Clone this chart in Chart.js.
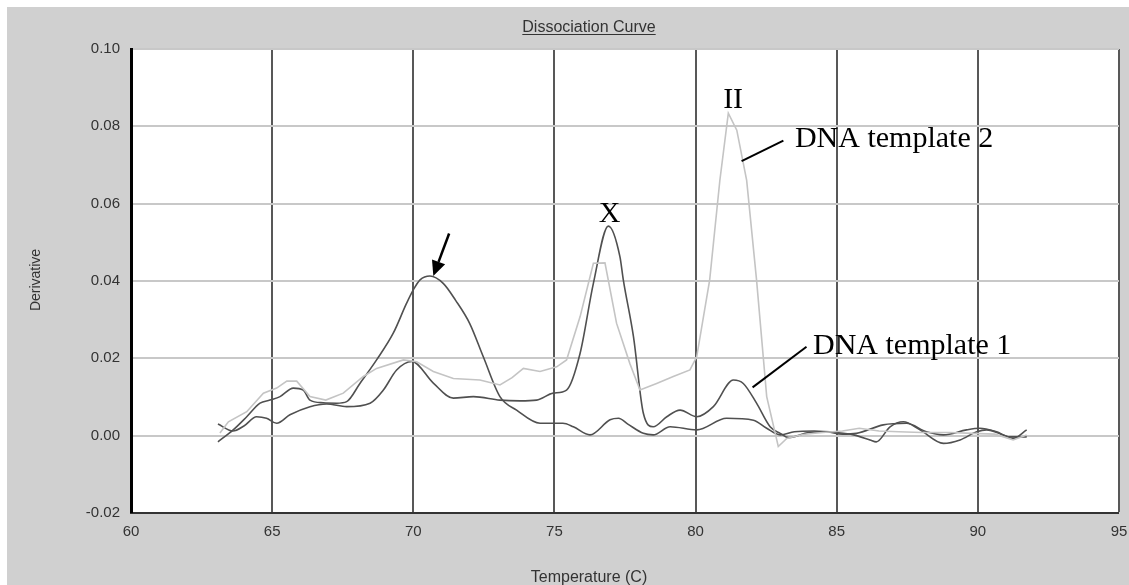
<!DOCTYPE html>
<html>
<head>
<meta charset="utf-8">
<script src="https://cdn.jsdelivr.net/npm/chart.js@4/dist/chart.umd.min.js"></script>
<style>
  body { margin: 0; background: #fff; }
  canvas { display: block; }
</style>
</head>
<body>
<canvas id="myChart" width="1129" height="585"></canvas>
<script>
// --- data ---
const tempsA = [63.08, 63.62, 64.1, 64.57, 64.92, 65.28, 65.75, 66.1, 66.34, 66.81, 67.29, 67.64, 68.11, 68.7, 69.29, 69.76, 70.0, 70.24, 70.59, 71.06, 71.5, 72.0, 72.48, 73.07, 73.66, 74.49, 75.3, 75.67, 76.26, 76.97, 77.27, 77.6, 78.15, 78.5, 79.1, 80.04, 81.1, 82.05, 82.52, 83.0, 83.5, 84.2, 85.0, 85.6, 86.18, 86.4, 86.89, 87.36, 87.95, 88.78, 89.37, 89.96, 90.31, 90.9, 91.25, 91.73];
const derivA = [-0.0016, 0.0015, 0.0049, 0.0084, 0.0092, 0.0101, 0.0123, 0.0118, 0.0092, 0.0085, 0.0084, 0.0088, 0.0135, 0.0196, 0.0265, 0.0342, 0.0377, 0.0403, 0.0413, 0.0394, 0.0350, 0.0290, 0.0204, 0.0101, 0.0066, 0.0032, 0.0032, 0.0023, 0.0002, 0.0041, 0.0045, 0.0030, 0.0006, 0.0002, 0.0023, 0.0015, 0.0045, 0.0040, 0.0019, 0.0002, 0.0010, 0.0012, 0.0008, 0.0002, -0.0011, -0.0016, 0.0023, 0.0036, 0.0015, -0.0020, -0.0011, 0.0010, 0.0015, 0.0002, -0.0007, 0.0015];

const tempsB = [63.08, 63.61, 64.0, 64.45, 64.8, 65.16, 65.63, 66.34, 66.93, 67.64, 68.47, 68.94, 69.41, 69.95, 70.71, 71.42, 72.13, 73.07, 73.78, 74.37, 74.96, 75.43, 75.91, 76.38, 76.91, 77.32, 77.44, 77.8, 78.15, 78.5, 78.98, 79.45, 80.04, 80.63, 81.34, 81.69, 82.16, 82.64, 83.0, 83.3, 84.0, 84.6, 85.2, 85.7, 86.65, 87.47, 88.18, 88.78, 89.6, 90.07, 90.66, 91.13, 91.73];
const derivB = [0.0030, 0.0012, 0.0025, 0.0049, 0.0045, 0.0032, 0.0054, 0.0075, 0.0082, 0.0075, 0.0084, 0.0118, 0.0170, 0.0192, 0.0136, 0.0097, 0.0101, 0.0092, 0.0090, 0.0092, 0.0110, 0.0118, 0.0213, 0.0394, 0.0542, 0.0463, 0.0403, 0.0256, 0.0058, 0.0023, 0.0049, 0.0066, 0.0049, 0.0075, 0.0144, 0.0135, 0.0084, 0.0023, 0.0006, -0.0005, 0.0008, 0.0010, 0.0004, 0.0006, 0.0028, 0.0032, 0.0010, 0.0002, 0.0015, 0.0019, 0.0010, -0.0003, -0.0003];

const tempsC = [63.15, 63.45, 64.1, 64.69, 65.16, 65.52, 65.87, 66.34, 66.9, 67.52, 68.23, 68.7, 69.65, 70.12, 70.71, 71.42, 72.36, 73.07, 73.5, 73.9, 74.49, 75.08, 75.43, 75.91, 76.38, 76.79, 77.2, 77.67, 78.03, 78.62, 79.21, 79.8, 80.04, 80.5, 80.86, 81.16, 81.46, 81.81, 82.16, 82.52, 82.93, 83.23, 83.8, 84.5, 85.2, 85.8, 86.5, 87.2, 88.0, 89.0, 89.8, 90.6, 91.25, 91.73];
const derivC = [0.0007, 0.0036, 0.0062, 0.0110, 0.0123, 0.0141, 0.0141, 0.0101, 0.0092, 0.0110, 0.0153, 0.0174, 0.0196, 0.0191, 0.0166, 0.0148, 0.0144, 0.0131, 0.0150, 0.0174, 0.0166, 0.0178, 0.0196, 0.0308, 0.0446, 0.0447, 0.0291, 0.0187, 0.0118, 0.0135, 0.0153, 0.0170, 0.0204, 0.0403, 0.0660, 0.0834, 0.0790, 0.0660, 0.0403, 0.0101, -0.0028, -0.0007, 0.0003, 0.0008, 0.0012, 0.0019, 0.0012, 0.0010, 0.0008, 0.0008, 0.0006, 0.0004, -0.0011, 0.0002];

// annotation labels in data units (temperature, derivative)
const labelTexts = ['II', 'X', 'DNA template 2', 'DNA template 1'];
const labelPos = [[81.33, 0.0847], [76.95, 0.0552], [83.52, 0.0747], [84.16, 0.0211]];
const leaderLines = [[83.11, 0.0763, 81.63, 0.0710], [83.93, 0.0230, 82.02, 0.0125]];
const arrowLine = [71.27, 0.0523, 70.71, 0.0413];

function toPoints(xs, ys) {
    return xs.map((x, i) => ({ x: x, y: ys[i] }));
}

const SANS = '"Liberation Sans", Arial, sans-serif';
const SERIF = '"Liberation Serif", "Times New Roman", serif';

// gray frame, title, axis titles
const framePlugin = {
    id: 'frame',
    beforeDraw(chart) {
        const ctx = chart.ctx;
        const a = chart.chartArea;
        ctx.save();
        ctx.fillStyle = '#ffffff';
        ctx.fillRect(0, 0, chart.width, chart.height);
        ctx.fillStyle = '#d0d0d0';
        ctx.fillRect(7, 7, chart.width - 7, chart.height - 7);
        ctx.fillStyle = '#ffffff';
        ctx.fillRect(a.left, a.top, a.right - a.left, a.bottom - a.top);
        ctx.restore();
    },
    afterDraw(chart) {
        const ctx = chart.ctx;
        ctx.save();
        ctx.fillStyle = '#333';
        ctx.strokeStyle = '#333';
        ctx.textAlign = 'center';
        ctx.textBaseline = 'alphabetic';
        ctx.font = '16px ' + SANS;
        const title = 'Dissociation Curve';
        ctx.fillText(title, 589, 32);
        const w = ctx.measureText(title).width;
        ctx.lineWidth = 1.2;
        ctx.beginPath();
        ctx.moveTo(589 - w / 2, 34.5);
        ctx.lineTo(589 + w / 2, 34.5);
        ctx.stroke();

        ctx.fillText('Temperature (C)', 589, 582);

        ctx.font = '14px ' + SANS;
        ctx.translate(40, 280);
        ctx.rotate(-Math.PI / 2);
        ctx.fillText('Derivative', 0, 0);
        ctx.restore();
    }
};

// serif labels, leader lines and arrow placed through the scales
const notePlugin = {
    id: 'notes',
    afterDatasetsDraw(chart) {
        const ctx = chart.ctx;
        const sx = chart.scales.x, sy = chart.scales.y;
        const px = v => sx.getPixelForValue(v);
        const py = v => sy.getPixelForValue(v);
        ctx.save();
        ctx.fillStyle = '#000';
        ctx.strokeStyle = '#000';
        ctx.font = '30px ' + SERIF;
        ctx.textBaseline = 'alphabetic';
        labelTexts.forEach((t, i) => {
            ctx.textAlign = i < 2 ? 'center' : 'left';
            ctx.fillText(t, px(labelPos[i][0]), py(labelPos[i][1]));
        });

        ctx.lineWidth = 2;
        leaderLines.forEach(l => {
            ctx.beginPath();
            ctx.moveTo(px(l[0]), py(l[1]));
            ctx.lineTo(px(l[2]), py(l[3]));
            ctx.stroke();
        });

        // arrow
        const x0 = px(arrowLine[0]), y0 = py(arrowLine[1]);
        const x1 = px(arrowLine[2]), y1 = py(arrowLine[3]);
        const ang = Math.atan2(y1 - y0, x1 - x0);
        const head = 15, half = 7;
        const bx = x1 - head * Math.cos(ang), by = y1 - head * Math.sin(ang);
        ctx.lineWidth = 2.5;
        ctx.beginPath();
        ctx.moveTo(x0, y0);
        ctx.lineTo(bx, by);
        ctx.stroke();
        ctx.beginPath();
        ctx.moveTo(x1, y1);
        ctx.lineTo(bx + half * Math.sin(ang), by - half * Math.cos(ang));
        ctx.lineTo(bx - half * Math.sin(ang), by + half * Math.cos(ang));
        ctx.closePath();
        ctx.fill();
        ctx.restore();
    }
};

const data = {
    datasets: [
        {
            label: 'DNA template 2',
            data: toPoints(tempsC, derivC),
            borderColor: '#c4c4c4',
            borderWidth: 1.6,
            tension: 0,
            pointRadius: 0,
            fill: false
        },
        {
            label: 'Sample A',
            data: toPoints(tempsA, derivA),
            borderColor: '#505050',
            borderWidth: 1.6,
            cubicInterpolationMode: 'monotone',
            pointRadius: 0,
            fill: false
        },
        {
            label: 'DNA template 1',
            data: toPoints(tempsB, derivB),
            borderColor: '#505050',
            borderWidth: 1.6,
            cubicInterpolationMode: 'monotone',
            pointRadius: 0,
            fill: false
        }
    ]
};

const config = {
    type: 'line',
    data: data,
    options: {
        responsive: false,
        animation: false,
        layout: { padding: { left: 0, top: 49, right: 10, bottom: 0 } },
        plugins: {
            legend: { display: false },
            tooltip: { enabled: false },
            title: { display: false }
        },
        scales: {
            x: {
                type: 'linear',
                min: 60,
                max: 95,
                afterFit: s => { s.height = 72; s.paddingLeft = 0; s.paddingRight = 0; },
                ticks: {
                    stepSize: 5,
                    padding: 10,
                    color: '#333',
                    font: { family: SANS, size: 15 }
                },
                grid: {
                    drawTicks: false,
                    color: '#585858',
                    lineWidth: c => (c.tick && c.tick.value === 60 ? 0 : 2)
                },
                border: { color: '#333', width: 2 }
            },
            y: {
                min: -0.02,
                max: 0.10,
                afterFit: s => { s.width = 131; s.paddingTop = 0; s.paddingBottom = 0; },
                ticks: {
                    stepSize: 0.02,
                    padding: 11,
                    color: '#333',
                    font: { family: SANS, size: 15 },
                    callback: v => v.toFixed(2)
                },
                grid: {
                    drawTicks: false,
                    color: '#c8c8c8',
                    lineWidth: c => (c.tick && Math.abs(c.tick.value + 0.02) < 1e-6 ? 0 : 2)
                },
                border: { color: '#000', width: 3 }
            }
        }
    },
    plugins: [framePlugin, notePlugin]
};

const myChart = new Chart(document.getElementById('myChart'), config);
</script>
</body>
</html>
